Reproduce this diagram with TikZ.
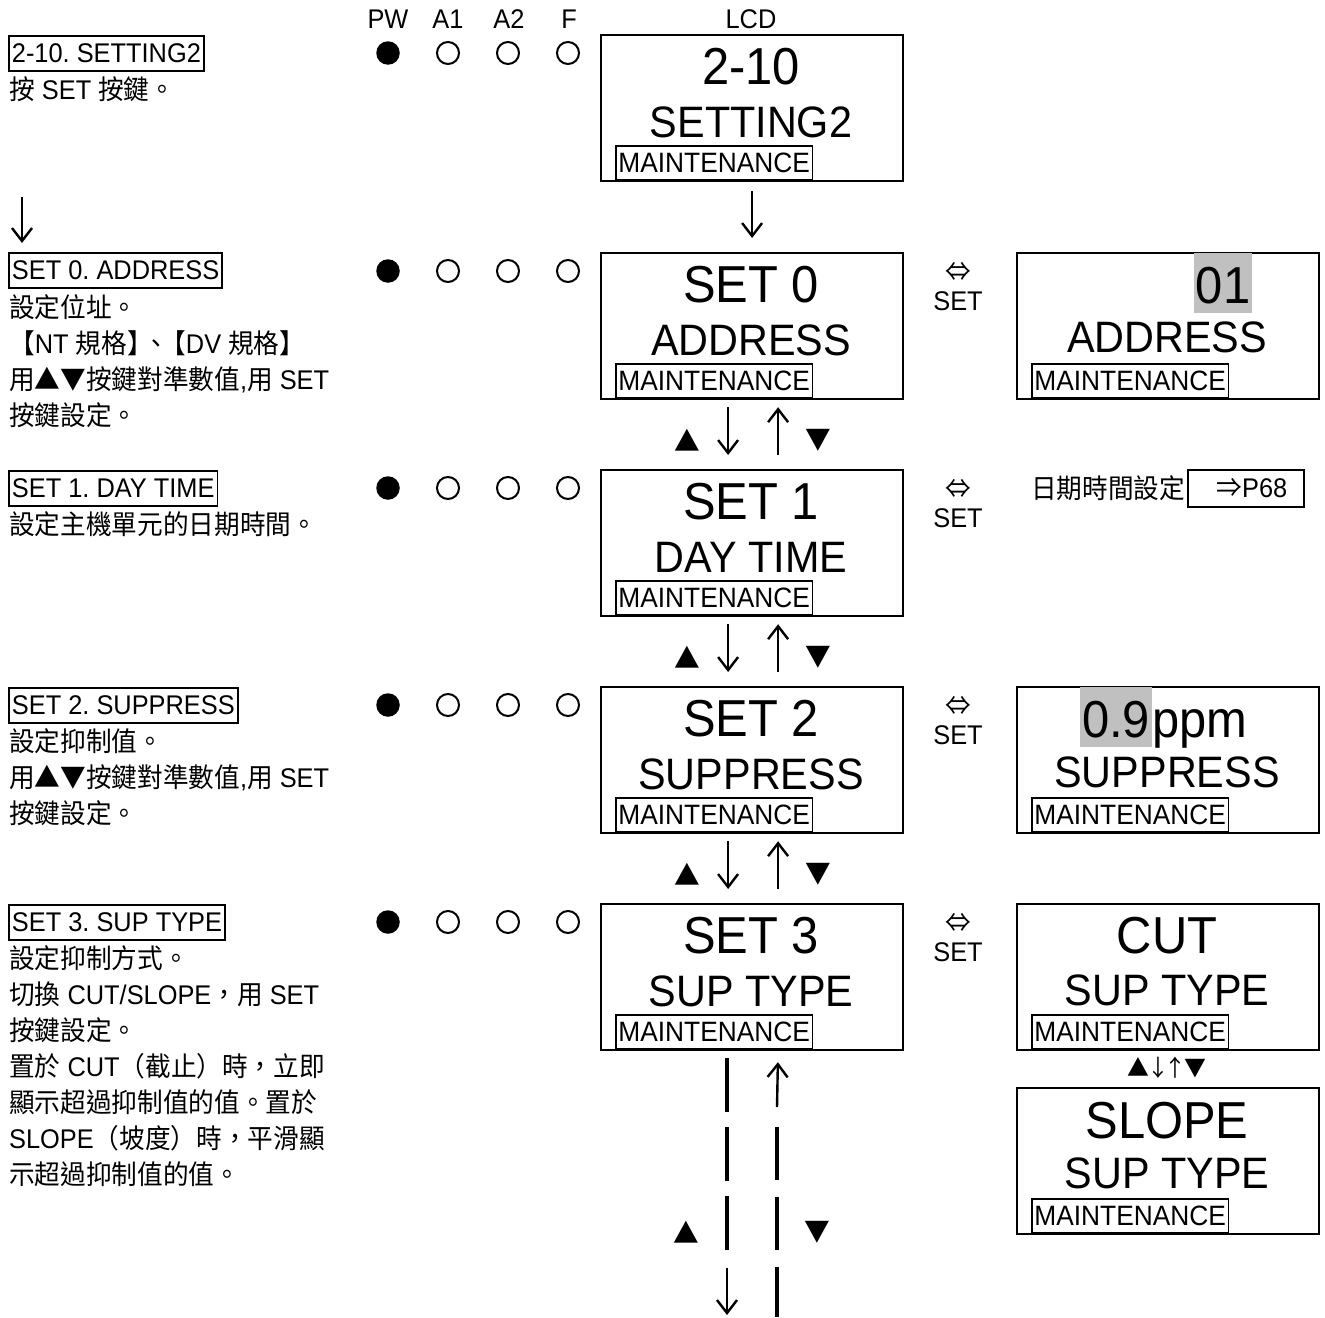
\documentclass[tikz,border=0pt]{standalone}
\usepackage{fontspec}
\setmainfont{Liberation Sans}[FakeStretch=0.94]
\newfontfamily\cjk{Noto Sans CJK TC}[FakeStretch=0.95]
\usetikzlibrary{arrows.meta}
\newcommand{\zh}[1]{{\cjk #1}}
\definecolor{hlgray}{RGB}{192,192,192}
\frenchspacing

\begin{document}
\begin{tikzpicture}[x=1pt,y=-1pt,
  lcd/.style={draw, line width=2.2pt, minimum width=302pt, minimum height=146pt, anchor=north west, inner sep=0pt},
  big/.style={font=\fontsize{52}{60}\selectfont, anchor=base, inner sep=0pt},
  mid/.style={font=\fontsize{44}{52}\selectfont, anchor=base, inner sep=0pt},
  maint/.style={draw, line width=1.8pt, font=\fontsize{28}{34}\selectfont, anchor=north west, minimum height=34pt, inner xsep=2.5pt, inner ysep=0pt},
  title/.style={draw, line width=1.8pt, font=\fontsize{27}{34}\selectfont, anchor=north west, minimum height=35pt, inner xsep=3pt, inner ysep=0pt},
  desc/.style={font=\fontsize{27}{36}\selectfont, align=left, anchor=north west, inner sep=0pt},
  lbl/.style={font=\fontsize{27}{32}\selectfont, inner sep=0pt},
  hl/.style={fill=hlgray, inner xsep=2pt, inner ysep=0pt, text height=50pt, text depth=10pt, font=\fontsize{52}{60}\selectfont},
  led/.style={circle, draw, line width=2pt, minimum size=22pt, inner sep=0pt},
  ledon/.style={circle, fill, minimum size=23.5pt, inner sep=0pt},
  arr/.style={line width=2.4pt, -{Straight Barb[length=13pt,width=20pt]}},
  gap/.style={line width=4pt, dash pattern=on 54pt off 15pt}]
\useasboundingbox (0,0) rectangle (1325,1317);

\node[lbl, anchor=base] (hpw) at (388,28) {PW};
\node[lbl, anchor=base] (ha1) at (448,28) {A1};
\node[lbl, anchor=base] (ha2) at (509,28) {A2};
\node[lbl, anchor=base] (hf) at (569,28) {F};
\node[lbl, anchor=base] (hlcd) at (751,28) {LCD};

\foreach \n/\y/\a/\b in {0/34/2-10/SETTING2, 1/252/SET 0/ADDRESS, 2/469/SET 1/DAY TIME, 3/686/SET 2/SUPPRESS, 4/903/SET 3/SUP TYPE}{
  \node[lcd] (lcd\n) at (600,\y) {};
  \node[big] (top\n) at (751,{\y+50}) {\a};
  \node[mid] (sub\n) at (751,{\y+103}) {\b};
  \node[maint] (mnt\n) at (615,{\y+111}) {MAINTENANCE};
  \node[ledon] (pw\n) at (388,{\y+19}) {};
  \foreach \x/\k in {448/a1,508/a2,568/f}
    \node[led] (\k\n) at (\x,{\y+19}) {};
}

\foreach \n/\y in {1/252,2/469,3/686,4/903}{
  \node[lbl] (sw\n) at (958,{\y+20}) {\zh{⇔}};
  \node[lbl, anchor=base] (st\n) at (958,{\y+58}) {SET};
}

\draw[arr, shorten <=9pt, shorten >=14pt] (lcd0) -- (lcd1);
\foreach \n/\m in {1/2,2/3,3/4}{
  \draw[arr, shorten <=7pt, shorten >=14pt] ([xshift=-24pt]lcd\n.south) -- ([xshift=-24pt]lcd\m.north);
  \draw[arr, shorten <=14pt, shorten >=7pt] ([xshift=26pt]lcd\m.north) -- ([xshift=26pt]lcd\n.south);
  \node[lbl] (up\m) at ([xshift=-65pt,yshift=29pt]lcd\m.north) {\zh{▲}};
  \node[lbl] (dn\m) at ([xshift=66pt,yshift=29pt]lcd\m.north) {\zh{▼}};
}

\coordinate (endL) at (727,1317);
\coordinate (endR) at (777,1317);
\draw[gap] (727,1058) -- (727,1252);
\draw[arr, shorten >=2pt] (727,1268) -- (endL);
\draw[arr, shorten >=11pt] (777,1107) -- ([xshift=26pt]lcd4.south);
\draw[gap, dash pattern=on 53pt off 17pt] (777,1127) -- (endR);
\node[lbl] (upx) at (686,1232) {\zh{▲}};
\node[lbl] (dnx) at (817,1232) {\zh{▼}};

\node[lcd] (adr) at (1016,252) {};
\node[hl, anchor=base] (adrv) at (1223,303) {01};
\node[mid] (adrn) at (1167,352) {ADDRESS};
\node[maint] (adrm) at (1031,363) {MAINTENANCE};

\node[lbl, anchor=west] (dt) at (1031,488) {\zh{日期時間設定}};
\node[lbl, draw, line width=1.8pt, anchor=north west, minimum width=116pt, minimum height=37pt] (p68) at (1187,469) {\hspace*{12pt}\zh{⇒}P68};

\node[lcd] (sup) at (1016,686) {};
\node[hl, anchor=base west] (supv) at (1080,737) {0.9};
\node[big, anchor=base west] (supu) at (supv.base east) {ppm};
\node[mid] (supn) at (1167,787) {SUPPRESS};
\node[maint] (supm) at (1031,797) {MAINTENANCE};

\node[lcd] (cut) at (1016,903) {};
\node[big] (cutv) at (1167,953) {CUT};
\node[mid] (cutn) at (1167,1005) {SUP TYPE};
\node[maint] (cutm) at (1031,1014) {MAINTENANCE};
\node[lbl, font=\fontsize{23}{26}\selectfont] (cutk) at (1167,1068) {\zh{▲\kern-2pt↓\kern-5pt↑\kern-2pt▼}};
\node[lcd] (slp) at (1016,1087) {};
\node[big] (slpv) at (1167,1138) {SLOPE};
\node[mid] (slpn) at (1167,1188) {SUP TYPE};
\node[maint] (slpm) at (1031,1198) {MAINTENANCE};

\node[title] (t0) at (8,35) {2-10. SETTING2};
\node[desc] (d0) at (9,76) {\zh{按} SET \zh{按鍵。}};
\node[title] (t1) at (8,252) {SET 0. ADDRESS};
\coordinate (la) at (22,197);
\draw[arr, shorten >=9pt] (la) -- (la |- t1.north);
\node[desc] (d1) at (9,294) {\zh{設定位址。}\\\zh{【}NT \zh{規格】\kern-9pt、\kern-9pt【}DV \zh{規格】}\\\zh{用▲▼按鍵對準數值},\zh{用} SET\\\zh{按鍵設定。}};
\node[title] (t2) at (8,470) {SET 1. DAY TIME};
\node[desc] (d2) at (9,511) {\zh{設定主機單元的日期時間。}};
\node[title] (t3) at (8,687) {SET 2. SUPPRESS};
\node[desc] (d3) at (9,728) {\zh{設定抑制值。}\\\zh{用▲▼按鍵對準數值},\zh{用} SET\\\zh{按鍵設定。}};
\node[title] (t4) at (8,904) {SET 3. SUP TYPE};
\node[desc] (d4) at (9,945) {\zh{設定抑制方式。}\\\zh{切換} CUT/SLOPE\zh{，用} SET\\\zh{按鍵設定。}\\\zh{置於} CUT\zh{（截止）時，立即}\\\zh{顯示超過抑制值的值。置於}\\SLOPE\zh{（坡度）時，平滑顯}\\\zh{示超過抑制值的值。}};
\end{tikzpicture}
\end{document}
